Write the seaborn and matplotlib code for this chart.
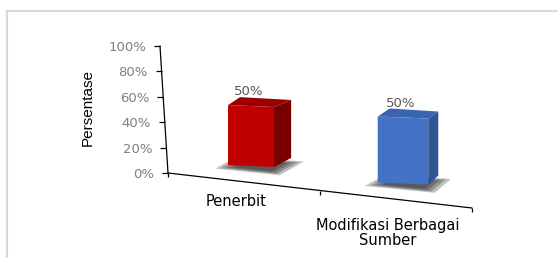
import numpy as np
import pandas as pd
import seaborn as sns
import matplotlib.pyplot as plt
import matplotlib.transforms as mtransforms
from matplotlib.patches import Polygon
from matplotlib.lines import Line2D

# Data
categories = ['Penerbit', 'Modifikasi Berbagai\nSumber']
values = [50, 50]
yticks = [0, 20, 40, 60, 80, 100]
ytick_labels = ['0%', '20%', '40%', '60%', '80%', '100%']

front_colors = ['#C00000', '#4472C4']
side_colors = ['#780000', '#2E5596']
top_colors = ['#9A0000', '#3B64AE']

sns.set_style('white')
plt.rcParams['font.family'] = ['DejaVu Sans']

W, H = 558, 258
fig = plt.figure(figsize=(W / 100, H / 100), dpi=100)
x0, y0 = 168, 85  # axis origin in pixels
ax = fig.add_axes([x0 / W, y0 / H, 304 / W, 127 / H])
ax.set_axis_off()

df = pd.DataFrame({'cat': categories, 'val': values})
sns.barplot(data=df, x='cat', y='val', hue='cat', palette=front_colors,
            width=0.32, saturation=1, legend=False, ax=ax)
ax.set_xlim(-0.5, 1.5)
ax.set_ylim(0, 100)
ax.set_autoscale_on(False)

# fake 3d look: shear the plot floor
a = -8 / 127
b = 35 / 304
shear = mtransforms.Affine2D(np.array([[1, a, -a * y0], [-b, 1, b * x0], [0, 0, 1]]))
axis_tr = ax.transData + shear
ident = mtransforms.IdentityTransform()

bars = sorted(ax.patches, key=lambda p: p.get_x())
bar_trs = []
for i, p in enumerate(bars):
    x, w, h = p.get_x(), p.get_width(), p.get_height()
    xc = x + w / 2
    u = ax.transData.transform((xc, 0))
    g = axis_tr.transform((xc, 0))
    # bars further right look a bit bigger, floor slope inside a bar is small
    s = 0.945 + (u[0] - 244) * 0.095 / 152
    local = mtransforms.Affine2D().translate(-u[0], -u[1]).scale(s, s)
    local += mtransforms.Affine2D(np.array([[1, 0, 0], [-0.04, 1, 0], [0, 0, 1]]))
    local += mtransforms.Affine2D().translate(g[0] + 7, g[1] + 15.7)
    tr_i = ax.transData + local
    bar_trs.append(tr_i)

    p.set_transform(tr_i)
    p.set_clip_on(False)
    p.set_edgecolor('none')
    p.set_zorder(3)
    bl, br, tr, tl = tr_i.transform([(x, 0), (x + w, 0), (x + w, h), (x, h)])
    fx = (bl[0] + br[0]) / 2
    dl = np.array([12, 8])
    dr = np.array([0.047 * (616 - fx), 7])

    # soft shadow under the bar
    foot = np.array([bl + (-7, -2), br + (3, -6), br + dr + (7, -1), bl + dl + (-1, 0)])
    c = foot.mean(axis=0)
    for sc in [1.15, 1.0, 0.85, 0.7]:
        pts = c + (foot - c) * sc + np.array([0, -1])
        ax.add_patch(Polygon(pts, closed=True, transform=ident, fc='#1a1a1a',
                             ec='none', alpha=0.27, zorder=1, clip_on=False))

    ax.add_patch(Polygon([br, tr, tr + dr, br + dr + (0, 2)], closed=True, transform=ident,
                         fc=side_colors[i], ec='none', zorder=3, clip_on=False))
    ax.add_patch(Polygon([tl, tr, tr + dr, tl + dl], closed=True, transform=ident,
                         fc=top_colors[i], ec='none', zorder=3, clip_on=False))

# value labels
for i, v in enumerate(values):
    ax.text(i, v, f'{v}%', transform=bar_trs[i] + mtransforms.Affine2D().translate(-2, 14.5),
            ha='center', va='center', color='#595959', fontsize=9.5)

# axes lines and ticks
ax.plot([-0.5, 1.5], [0, 0], color='black', lw=0.9, transform=axis_tr, clip_on=False)
ax.plot([-0.5, -0.5], [0, 100], color='black', lw=0.9, transform=axis_tr, clip_on=False)
ax.plot([-0.5] * len(yticks), yticks, ls='none', marker=0, ms=4, mew=0.9,
        color='black', transform=axis_tr, clip_on=False)
ax.plot([-0.5, 0.5, 1.5], [0, 0, 0], ls='none', marker=3, ms=3, mew=0.9,
        color='black', transform=axis_tr, clip_on=False)

for v, lab in zip(yticks, ytick_labels):
    ax.text(-0.5, v, lab, transform=axis_tr + mtransforms.Affine2D().translate(-14, -1.5),
            ha='right', va='center', color='#7F7F7F', fontsize=9.5)

label_tr = axis_tr + mtransforms.Affine2D(
    np.array([[1, 0, 0], [-0.043, 1, 0.043 * x0], [0, 0, 1]])).translate(-8, -9)
for i, cat in enumerate(categories):
    ax.text(i, 0, cat, transform=label_tr, ha='center', va='top', color='black',
            fontsize=10.5, linespacing=1.0, multialignment='center')

fig.text(88 / W, (H - 108) / H, 'Persentase', rotation=90, ha='center', va='center',
         fontsize=11, family='Liberation Sans', color='black')

# chart border (top and left only visible)
fig.add_artist(Line2D([7 / W, 557 / W], [(H - 11) / H] * 2, color='#D9D9D9', lw=1.5))
fig.add_artist(Line2D([7 / W, 7 / W], [(H - 11) / H, 0], color='#D9D9D9', lw=1.5))

fig.savefig('out.png', dpi=100)
